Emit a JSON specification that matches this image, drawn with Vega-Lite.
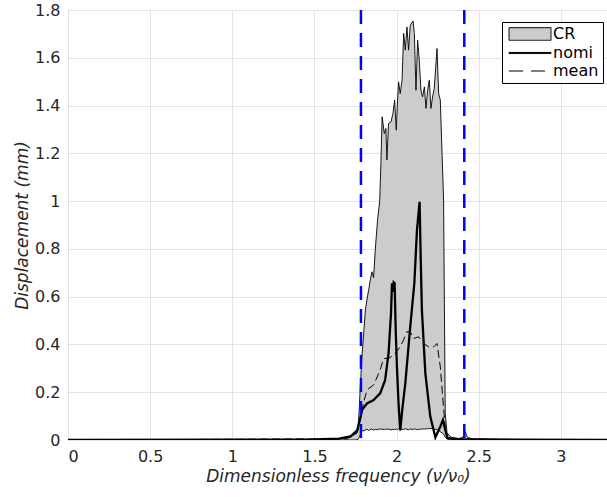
{
  "$schema": "https://vega.github.io/schema/vega-lite/v6.json",
  "width": 540,
  "height": 430,
  "autosize": {"type": "none"},
  "padding": {"left": 68, "top": 10, "right": 0, "bottom": 57},
  "background": "white",
  "datasets": {
    "band": [
      {"x": 0, "lo": 0, "hi": 0},
      {"x": 1.0, "lo": 0, "hi": 0.001},
      {"x": 1.5, "lo": 0, "hi": 0.003},
      {"x": 1.65, "lo": 0, "hi": 0.006},
      {"x": 1.72, "lo": 0, "hi": 0.015},
      {"x": 1.75, "lo": 0, "hi": 0.025},
      {"x": 1.765, "lo": 0.002, "hi": 0.05},
      {"x": 1.772, "lo": 0.01, "hi": 0.12},
      {"x": 1.779, "lo": 0.02, "hi": 0.223},
      {"x": 1.789, "lo": 0.04, "hi": 0.349},
      {"x": 1.80, "lo": 0.038, "hi": 0.45},
      {"x": 1.81, "lo": 0.042, "hi": 0.544},
      {"x": 1.82, "lo": 0.045, "hi": 0.59},
      {"x": 1.83, "lo": 0.04, "hi": 0.628},
      {"x": 1.84, "lo": 0.044, "hi": 0.67},
      {"x": 1.85, "lo": 0.046, "hi": 0.704},
      {"x": 1.86, "lo": 0.041, "hi": 0.68},
      {"x": 1.87, "lo": 0.045, "hi": 0.795},
      {"x": 1.884, "lo": 0.043, "hi": 0.92},
      {"x": 1.897, "lo": 0.047, "hi": 1.0},
      {"x": 1.905, "lo": 0.044, "hi": 1.17},
      {"x": 1.912, "lo": 0.046, "hi": 1.353},
      {"x": 1.925, "lo": 0.043, "hi": 1.283},
      {"x": 1.935, "lo": 0.047, "hi": 1.304},
      {"x": 1.941, "lo": 0.044, "hi": 1.172},
      {"x": 1.951, "lo": 0.046, "hi": 1.325},
      {"x": 1.966, "lo": 0.042, "hi": 1.332},
      {"x": 1.978, "lo": 0.045, "hi": 1.367},
      {"x": 1.988, "lo": 0.043, "hi": 1.423},
      {"x": 1.998, "lo": 0.046, "hi": 1.297},
      {"x": 2.006, "lo": 0.044, "hi": 1.423},
      {"x": 2.012, "lo": 0.047, "hi": 1.499},
      {"x": 2.022, "lo": 0.043, "hi": 1.45},
      {"x": 2.033, "lo": 0.046, "hi": 1.506},
      {"x": 2.043, "lo": 0.044, "hi": 1.702},
      {"x": 2.053, "lo": 0.047, "hi": 1.632},
      {"x": 2.063, "lo": 0.045, "hi": 1.729},
      {"x": 2.073, "lo": 0.043, "hi": 1.632},
      {"x": 2.083, "lo": 0.046, "hi": 1.736},
      {"x": 2.1, "lo": 0.044, "hi": 1.754},
      {"x": 2.108, "lo": 0.047, "hi": 1.702},
      {"x": 2.118, "lo": 0.045, "hi": 1.464},
      {"x": 2.128, "lo": 0.043, "hi": 1.674},
      {"x": 2.138, "lo": 0.046, "hi": 1.59},
      {"x": 2.148, "lo": 0.044, "hi": 1.464},
      {"x": 2.158, "lo": 0.047, "hi": 1.436},
      {"x": 2.169, "lo": 0.045, "hi": 1.478},
      {"x": 2.179, "lo": 0.048, "hi": 1.388},
      {"x": 2.189, "lo": 0.046, "hi": 1.464},
      {"x": 2.199, "lo": 0.049, "hi": 1.506},
      {"x": 2.209, "lo": 0.047, "hi": 1.388},
      {"x": 2.219, "lo": 0.05, "hi": 1.436},
      {"x": 2.229, "lo": 0.046, "hi": 1.471},
      {"x": 2.246, "lo": 0.043, "hi": 1.639},
      {"x": 2.256, "lo": 0.04, "hi": 1.45},
      {"x": 2.266, "lo": 0.035, "hi": 1.423},
      {"x": 2.286, "lo": 0.025, "hi": 1.004},
      {"x": 2.296, "lo": 0.012, "hi": 0.11},
      {"x": 2.307, "lo": 0.004, "hi": 0.03},
      {"x": 2.33, "lo": 0, "hi": 0.012},
      {"x": 2.38, "lo": 0, "hi": 0.006},
      {"x": 2.405, "lo": 0, "hi": 0.012},
      {"x": 2.418, "lo": 0, "hi": 0.035},
      {"x": 2.43, "lo": 0, "hi": 0.012},
      {"x": 2.46, "lo": 0, "hi": 0.004},
      {"x": 2.6, "lo": 0, "hi": 0.002},
      {"x": 3.3, "lo": 0, "hi": 0}
    ],
    "nomi": [
      {"x": 0, "v": 0},
      {"x": 1.0, "v": 0.001},
      {"x": 1.5, "v": 0.003},
      {"x": 1.65, "v": 0.006},
      {"x": 1.72, "v": 0.015},
      {"x": 1.76, "v": 0.04},
      {"x": 1.775, "v": 0.08},
      {"x": 1.79, "v": 0.126},
      {"x": 1.82, "v": 0.153},
      {"x": 1.86, "v": 0.167},
      {"x": 1.9, "v": 0.195},
      {"x": 1.93, "v": 0.25},
      {"x": 1.951, "v": 0.363},
      {"x": 1.966, "v": 0.53},
      {"x": 1.972, "v": 0.656},
      {"x": 1.977, "v": 0.62},
      {"x": 1.982, "v": 0.66},
      {"x": 1.988, "v": 0.656},
      {"x": 1.995, "v": 0.45},
      {"x": 2.002, "v": 0.307},
      {"x": 2.012, "v": 0.15},
      {"x": 2.022, "v": 0.04},
      {"x": 2.035, "v": 0.13},
      {"x": 2.053, "v": 0.237},
      {"x": 2.083, "v": 0.474},
      {"x": 2.108, "v": 0.656},
      {"x": 2.124, "v": 0.879},
      {"x": 2.14, "v": 0.997},
      {"x": 2.147, "v": 0.75},
      {"x": 2.154, "v": 0.544},
      {"x": 2.175, "v": 0.279},
      {"x": 2.205, "v": 0.098},
      {"x": 2.236, "v": 0.011},
      {"x": 2.255, "v": 0.04},
      {"x": 2.266, "v": 0.056},
      {"x": 2.282, "v": 0.084},
      {"x": 2.296, "v": 0.042},
      {"x": 2.31, "v": 0.008},
      {"x": 2.35, "v": 0.004},
      {"x": 2.5, "v": 0.002},
      {"x": 3.3, "v": 0}
    ],
    "mean": [
      {"x": 0, "v": 0},
      {"x": 1.7, "v": 0.005},
      {"x": 1.76, "v": 0.03},
      {"x": 1.783, "v": 0.1},
      {"x": 1.8, "v": 0.16},
      {"x": 1.82, "v": 0.21},
      {"x": 1.86, "v": 0.23},
      {"x": 1.9, "v": 0.293},
      {"x": 1.92, "v": 0.34},
      {"x": 1.96, "v": 0.345},
      {"x": 1.992, "v": 0.363},
      {"x": 2.022, "v": 0.39},
      {"x": 2.043, "v": 0.42},
      {"x": 2.063, "v": 0.453},
      {"x": 2.083, "v": 0.453},
      {"x": 2.104, "v": 0.425},
      {"x": 2.134, "v": 0.432},
      {"x": 2.165, "v": 0.404},
      {"x": 2.195, "v": 0.39},
      {"x": 2.226, "v": 0.39},
      {"x": 2.246, "v": 0.404},
      {"x": 2.266, "v": 0.307},
      {"x": 2.282, "v": 0.167},
      {"x": 2.296, "v": 0.056},
      {"x": 2.31, "v": 0.01},
      {"x": 2.4, "v": 0.004},
      {"x": 3.3, "v": 0}
    ],
    "limits": [
      {"x": 1.783},
      {"x": 2.412}
    ],
    "legendrows": []
  },
  "encoding": {
    "x": {
      "field": "x",
      "type": "quantitative",
      "scale": {"domain": [0, 3.2867], "nice": false, "zero": false},
      "axis": {
        "values": [0, 0.5, 1, 1.5, 2, 2.5, 3],
        "format": "~g",
        "title": "Dimensionless frequency (ν/ν₀)",
        "labelPadding": 8,
        "titlePadding": 4
      }
    }
  },
  "layer": [
    {
      "data": {"name": "band"},
      "mark": {"type": "area", "fill": "#cccccc", "stroke": null, "clip": true},
      "encoding": {
        "y": {
          "field": "hi",
          "type": "quantitative",
          "scale": {"domain": [0, 1.8], "nice": false},
          "axis": {
            "values": [0, 0.2, 0.4, 0.6, 0.8, 1, 1.2, 1.4, 1.6, 1.8],
            "format": "~g",
            "title": "Displacement (mm)",
            "labelPadding": 8,
            "titlePadding": 3
          }
        },
        "y2": {"field": "lo"}
      }
    },
    {
      "data": {"name": "band"},
      "mark": {"type": "line", "color": "black", "strokeWidth": 0.9, "clip": true},
      "encoding": {
        "y": {"field": "hi", "type": "quantitative", "axis": {"title": "Displacement (mm)"}}
      }
    },
    {
      "data": {"name": "band"},
      "mark": {"type": "line", "color": "black", "strokeWidth": 0.9, "clip": true},
      "encoding": {
        "y": {"field": "lo", "type": "quantitative", "axis": {"title": "Displacement (mm)"}}
      }
    },
    {
      "data": {"name": "mean"},
      "mark": {"type": "line", "color": "black", "strokeWidth": 1, "strokeDash": [8, 4], "clip": true},
      "encoding": {
        "y": {"field": "v", "type": "quantitative", "axis": {"title": "Displacement (mm)"}}
      }
    },
    {
      "data": {"name": "nomi"},
      "mark": {"type": "line", "color": "black", "strokeWidth": 2.3, "clip": true},
      "encoding": {
        "y": {"field": "v", "type": "quantitative", "axis": {"title": "Displacement (mm)"}}
      }
    },
    {
      "data": {"name": "limits"},
      "mark": {"type": "rule", "color": "#0000ff", "strokeWidth": 2.5, "strokeDash": [14, 9]},
      "encoding": {}
    },
    {
      "data": {"name": "legendrows"},
      "mark": {"type": "point", "strokeWidth": 1, "stroke": "black"},
      "encoding": {
        "y": {"field": "v", "type": "quantitative", "axis": {"title": "Displacement (mm)"}},
        "shape": {
          "field": "series",
          "type": "nominal",
          "title": null,
          "scale": {"domain": ["CR", "nomi", "mean"], "range": ["M-3,-0.9H3V0.9H-3Z", "M-3,-0.08H3V0.08H-3Z", "M-3,0H3"]},
          "legend": {"orient": "none", "legendX": 434, "legendY": 12}
        },
        "fill": {
          "field": "series",
          "type": "nominal",
          "title": null,
          "scale": {"domain": ["CR", "nomi", "mean"], "range": ["#cccccc", "#000000", "transparent"]},
          "legend": {"orient": "none", "legendX": 434, "legendY": 12}
        },
        "stroke": {
          "field": "series",
          "type": "nominal",
          "title": null,
          "scale": {"domain": ["CR", "nomi", "mean"], "range": ["#000000", "#000000", "#000000"]},
          "legend": {"orient": "none", "legendX": 434, "legendY": 12}
        },
        "strokeDash": {
          "field": "series",
          "type": "nominal",
          "title": null,
          "scale": {"domain": ["CR", "nomi", "mean"], "range": [[1, 0], [1, 0], [14, 8]]},
          "legend": {"orient": "none", "legendX": 434, "legendY": 12}
        }
      }
    }
  ],
  "config": {
    "view": {"stroke": "#262626", "strokeWidth": 1},
    "legend": {
      "strokeColor": "black",
      "fillColor": "white",
      "padding": 4,
      "cornerRadius": 0,
      "symbolSize": 196,
      "symbolOffset": 16,
      "labelOffset": 15,
      "rowPadding": 2,
      "symbolStrokeColor": "black",
      "symbolStrokeWidth": 1,
      "symbolOpacity": 1,
      "labelFont": "DejaVu Sans",
      "labelFontSize": 16,
      "labelColor": "black"
    },
    "axis": {
      "grid": true,
      "gridColor": "#e3e3e3",
      "gridWidth": 1,
      "ticks": false,
      "domain": false,
      "labelFont": "DejaVu Sans",
      "labelFontSize": 16,
      "labelColor": "#262626",
      "titleFont": "DejaVu Sans",
      "titleFontSize": 17,
      "titleFontStyle": "italic",
      "titleFontWeight": "normal",
      "titleColor": "#262626"
    }
  }
}
